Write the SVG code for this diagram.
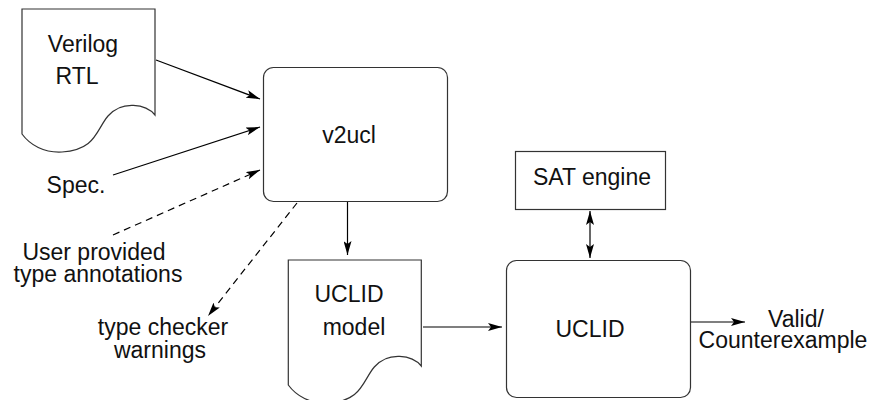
<svg xmlns="http://www.w3.org/2000/svg" width="873" height="400" viewBox="0 0 873 400">
<style>
text{font-family:"Liberation Sans",Arial,sans-serif;font-size:23px;fill:#111;text-anchor:middle}
.shape{fill:#fff;stroke:#333;stroke-width:1.2}
.c{fill:none;stroke:#000;stroke-width:1.2}
.d{stroke-dasharray:7,5}
</style>
<defs>
<marker id="ah" viewBox="0 0 14 8" refX="14" refY="4" markerWidth="14" markerHeight="8" markerUnits="userSpaceOnUse" orient="auto-start-reverse">
<path d="M0,0 L14,4 L0,8 L3,4 Z" fill="#000"/>
</marker>
<path id="doc" d="M22,9 H155 V115 C146,104 122,100 108,116 C96,130 96,150 62,152 C44,153 30,145 22,134 Z"/>
</defs>
<g id="verilog">
<use href="#doc" class="shape"/>
<text x="83" y="52">Verilog</text>
<text x="77" y="84">RTL</text>
</g>
<g id="v2ucl">
<rect x="263.5" y="67.5" width="184" height="134" rx="10" class="shape"/>
<text x="349" y="143">v2ucl</text>
</g>
<g id="spec"><text x="76" y="193">Spec.</text></g>
<g id="annot">
<text x="94" y="260">User provided</text>
<text x="98" y="282">type annotations</text>
</g>
<g id="warnings">
<text x="163" y="335">type checker</text>
<text x="160" y="358">warnings</text>
</g>
<g id="model">
<use href="#doc" class="shape" transform="translate(266.3,251)"/>
<text x="349" y="302">UCLID</text>
<text x="354" y="335">model</text>
</g>
<g id="sat">
<rect x="515.5" y="151.5" width="150" height="58" class="shape"/>
<text x="592" y="185">SAT engine</text>
</g>
<g id="uclid">
<rect x="506.5" y="260.5" width="184" height="137" rx="10" class="shape"/>
<text x="590" y="337">UCLID</text>
</g>
<g id="result">
<text x="796" y="327">Valid/</text>
<text x="783" y="348">Counterexample</text>
</g>
<g id="connectors">
<line x1="156" y1="60" x2="260" y2="99" class="c" marker-end="url(#ah)"/>
<line x1="113" y1="175" x2="260" y2="127" class="c" marker-end="url(#ah)"/>
<line x1="113" y1="235" x2="260" y2="170" class="c d" marker-end="url(#ah)"/>
<line x1="297" y1="203" x2="208" y2="316" class="c d" marker-end="url(#ah)"/>
<line x1="347.5" y1="202" x2="347.5" y2="255" class="c" marker-end="url(#ah)"/>
<line x1="423" y1="327" x2="502" y2="327" class="c" marker-end="url(#ah)"/>
<line x1="590" y1="211" x2="590" y2="258" class="c" marker-start="url(#ah)" marker-end="url(#ah)"/>
<line x1="691" y1="322" x2="745" y2="322" class="c" marker-end="url(#ah)"/>
</g>
</svg>
